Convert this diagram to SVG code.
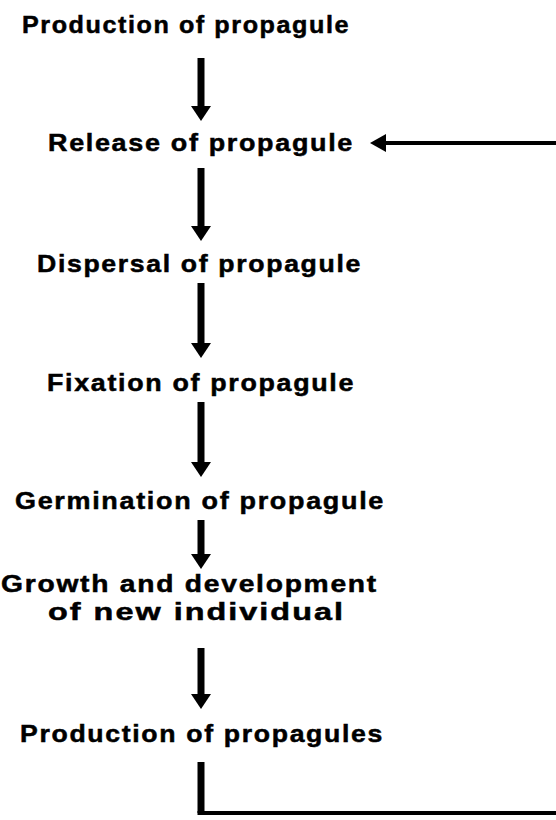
<svg xmlns="http://www.w3.org/2000/svg" width="556" height="820" viewBox="0 0 556 820">
<style>
text{font-family:"Liberation Sans",Arial,sans-serif;font-weight:bold;font-size:24px;fill:#000;stroke:#000;stroke-width:0.5;letter-spacing:1.5px}
.shaft{stroke:#000;stroke-width:7;fill:none}
.thin{stroke:#000;stroke-width:4;fill:none}
.head{fill:#000}
</style>
<rect width="556" height="820" fill="#fff"/>
<g id="n1"><text x="22" y="33" textLength="328" lengthAdjust="spacingAndGlyphs">Production of propagule</text></g>
<g id="n2"><text x="48" y="151" textLength="306" lengthAdjust="spacingAndGlyphs">Release of propagule</text></g>
<g id="n3"><text x="37" y="272" textLength="325" lengthAdjust="spacingAndGlyphs">Dispersal of propagule</text></g>
<g id="n4"><text x="47" y="391" textLength="308" lengthAdjust="spacingAndGlyphs">Fixation of propagule</text></g>
<g id="n5"><text x="15" y="509" textLength="370" lengthAdjust="spacingAndGlyphs">Germination of propagule</text></g>
<g id="n6"><text x="1" y="592" textLength="377" lengthAdjust="spacingAndGlyphs">Growth and development</text><text x="48" y="620" textLength="297" lengthAdjust="spacingAndGlyphs">of new individual</text></g>
<g id="n7"><text x="20" y="742" textLength="364" lengthAdjust="spacingAndGlyphs">Production of propagules</text></g>
<g id="connectors">
<line class="shaft" x1="201" y1="58" x2="201" y2="108"/><polygon class="head" points="191,106 211,106 201,121"/>
<line class="shaft" x1="201" y1="168" x2="201" y2="228"/><polygon class="head" points="191,226 211,226 201,241"/>
<line class="shaft" x1="201" y1="283" x2="201" y2="345"/><polygon class="head" points="191,343 211,343 201,358"/>
<line class="shaft" x1="201" y1="402" x2="201" y2="464"/><polygon class="head" points="191,462 211,462 201,477"/>
<line class="shaft" x1="201" y1="520" x2="201" y2="556"/><polygon class="head" points="191,554 211,554 201,569"/>
<line class="shaft" x1="201" y1="648" x2="201" y2="696"/><polygon class="head" points="191,694 211,694 201,709"/>
<line class="thin" x1="384" y1="143" x2="556" y2="143"/><polygon class="head" points="370,143 386,134 386,152"/>
<path class="shaft" d="M201,762 V813"/><path class="thin" d="M197.5,813 H556"/>
</g>
</svg>
